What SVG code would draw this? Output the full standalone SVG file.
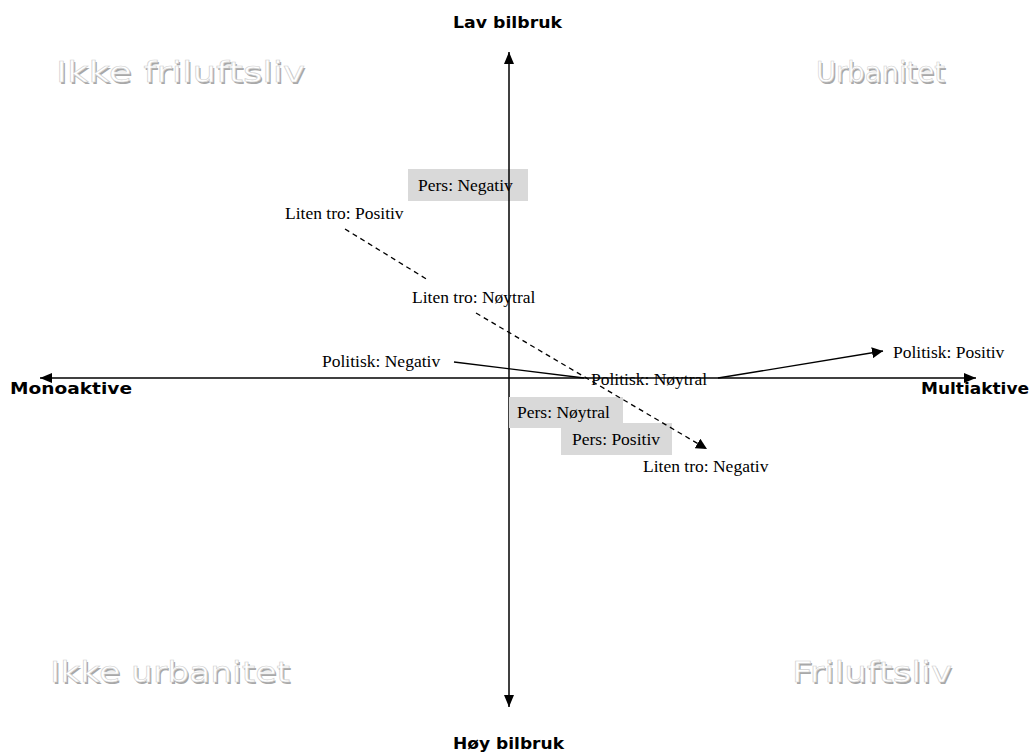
<svg xmlns="http://www.w3.org/2000/svg" width="1031" height="753" viewBox="0 0 1031 753">
  <style>
    .axis { stroke: #000; stroke-width: 1.5; fill: none; }
    .link { stroke: #000; stroke-width: 1.3; fill: none; }
    .dash { stroke-dasharray: 5 4; }
    .pole { font-family: "DejaVu Sans", "Liberation Sans", sans-serif; font-weight: bold; font-size: 16px; fill: #000; }
    .lbl { font-family: "Liberation Serif", "Times New Roman", serif; font-size: 17.5px; fill: #000; }
    .box { fill: #d9d9d9; }
    .quad { font-family: "DejaVu Sans", "Liberation Sans", sans-serif; font-size: 29px; }
    .quad .shadow { fill: #a8a8a8; }
    .quad .face { fill: #fff; stroke: #d0d0d0; stroke-width: 0.6; }
  </style>
  <defs>
    <marker id="tri" viewBox="0 0 10 10" refX="10" refY="5" markerWidth="11" markerHeight="11" markerUnits="userSpaceOnUse" orient="auto">
      <path d="M0,0 L10,5 L0,10 z" fill="#000"/>
    </marker>
    <marker id="triBig" viewBox="0 0 12 10" refX="12" refY="5" markerWidth="12" markerHeight="10" markerUnits="userSpaceOnUse" orient="auto">
      <path d="M0,0 L12,5 L0,10 z" fill="#000"/>
    </marker>
  </defs>
  <rect width="1031" height="753" fill="#fff"/>

  <!-- quadrant captions, embossed -->
  <g id="quadrants" class="quad">
    <g id="q-ikke-friluftsliv">
      <text class="shadow" x="57.5" y="83.5" textLength="249" lengthAdjust="spacingAndGlyphs">Ikke friluftsliv</text>
      <text class="face" x="56" y="82" textLength="249" lengthAdjust="spacingAndGlyphs">Ikke friluftsliv</text>
    </g>
    <g id="q-urbanitet">
      <text class="shadow" x="817.5" y="83.5" textLength="129" lengthAdjust="spacingAndGlyphs">Urbanitet</text>
      <text class="face" x="816" y="82" textLength="129" lengthAdjust="spacingAndGlyphs">Urbanitet</text>
    </g>
    <g id="q-ikke-urbanitet">
      <text class="shadow" x="51.5" y="683.5" textLength="240" lengthAdjust="spacingAndGlyphs">Ikke urbanitet</text>
      <text class="face" x="50" y="682" textLength="240" lengthAdjust="spacingAndGlyphs">Ikke urbanitet</text>
    </g>
    <g id="q-friluftsliv">
      <text class="shadow" x="793.5" y="683.5" textLength="160" lengthAdjust="spacingAndGlyphs">Friluftsliv</text>
      <text class="face" x="792" y="682" textLength="160" lengthAdjust="spacingAndGlyphs">Friluftsliv</text>
    </g>
  </g>

  <!-- axes -->
  <g id="axes">
    <line class="axis" x1="509" y1="378" x2="509" y2="52" marker-end="url(#triBig)"/>
    <line class="axis" x1="509" y1="378" x2="509" y2="707" marker-end="url(#triBig)"/>
    <line class="axis" x1="509" y1="378" x2="40" y2="378" marker-end="url(#triBig)"/>
    <line class="axis" x1="509" y1="378" x2="976" y2="378" marker-end="url(#triBig)"/>
  </g>

  <!-- axis pole captions -->
  <g id="poles">
    <text class="pole" id="lav-bilbruk" x="453" y="28" textLength="109" lengthAdjust="spacingAndGlyphs">Lav bilbruk</text>
    <text class="pole" id="hoy-bilbruk" x="453" y="749" textLength="111" lengthAdjust="spacingAndGlyphs">Høy bilbruk</text>
    <text class="pole" id="monoaktive" x="10" y="394" textLength="122" lengthAdjust="spacingAndGlyphs">Monoaktive</text>
    <text class="pole" id="multiaktive" x="921" y="394" textLength="108" lengthAdjust="spacingAndGlyphs">Multiaktive</text>
  </g>

  <!-- "Pers" positions on shaded labels -->
  <g id="pers-negativ">
    <rect class="box" x="408" y="169" width="120" height="32"/>
    <line class="axis" x1="509" y1="169" x2="509" y2="201"/>
    <text class="lbl" x="418" y="191">Pers: Negativ</text>
  </g>
  <g id="pers-noytral">
    <rect class="box" x="509" y="397" width="114" height="31"/>
    <text class="lbl" x="517" y="418">Pers: Nøytral</text>
  </g>
  <g id="pers-positiv">
    <rect class="box" x="561" y="423" width="111" height="32"/>
    <text class="lbl" x="572" y="445">Pers: Positiv</text>
  </g>

  <!-- connectors -->
  <g id="connectors">
    <!-- Politisk: Negativ -> Nøytral -> Positiv -->
    <line class="link" x1="454" y1="362" x2="584" y2="378"/>
    <line class="link" x1="718" y1="378" x2="883" y2="351" marker-end="url(#tri)"/>
    <!-- Liten tro: Positiv -> Nøytral -> Negativ -->
    <line class="link dash" x1="345" y1="229" x2="428" y2="280"/>
    <line class="link dash" x1="476" y1="313" x2="707" y2="449" marker-end="url(#tri)"/>
  </g>

  <!-- point labels -->
  <g id="liten-tro-positiv"><text class="lbl" x="285" y="219">Liten tro: Positiv</text></g>
  <g id="liten-tro-noytral"><text class="lbl" x="412" y="303">Liten tro: Nøytral</text></g>
  <g id="liten-tro-negativ"><text class="lbl" x="643" y="472">Liten tro: Negativ</text></g>
  <g id="politisk-negativ"><text class="lbl" x="322" y="367">Politisk: Negativ</text></g>
  <g id="politisk-noytral"><text class="lbl" x="591" y="385">Politisk: Nøytral</text></g>
  <g id="politisk-positiv"><text class="lbl" x="893" y="358">Politisk: Positiv</text></g>
</svg>
